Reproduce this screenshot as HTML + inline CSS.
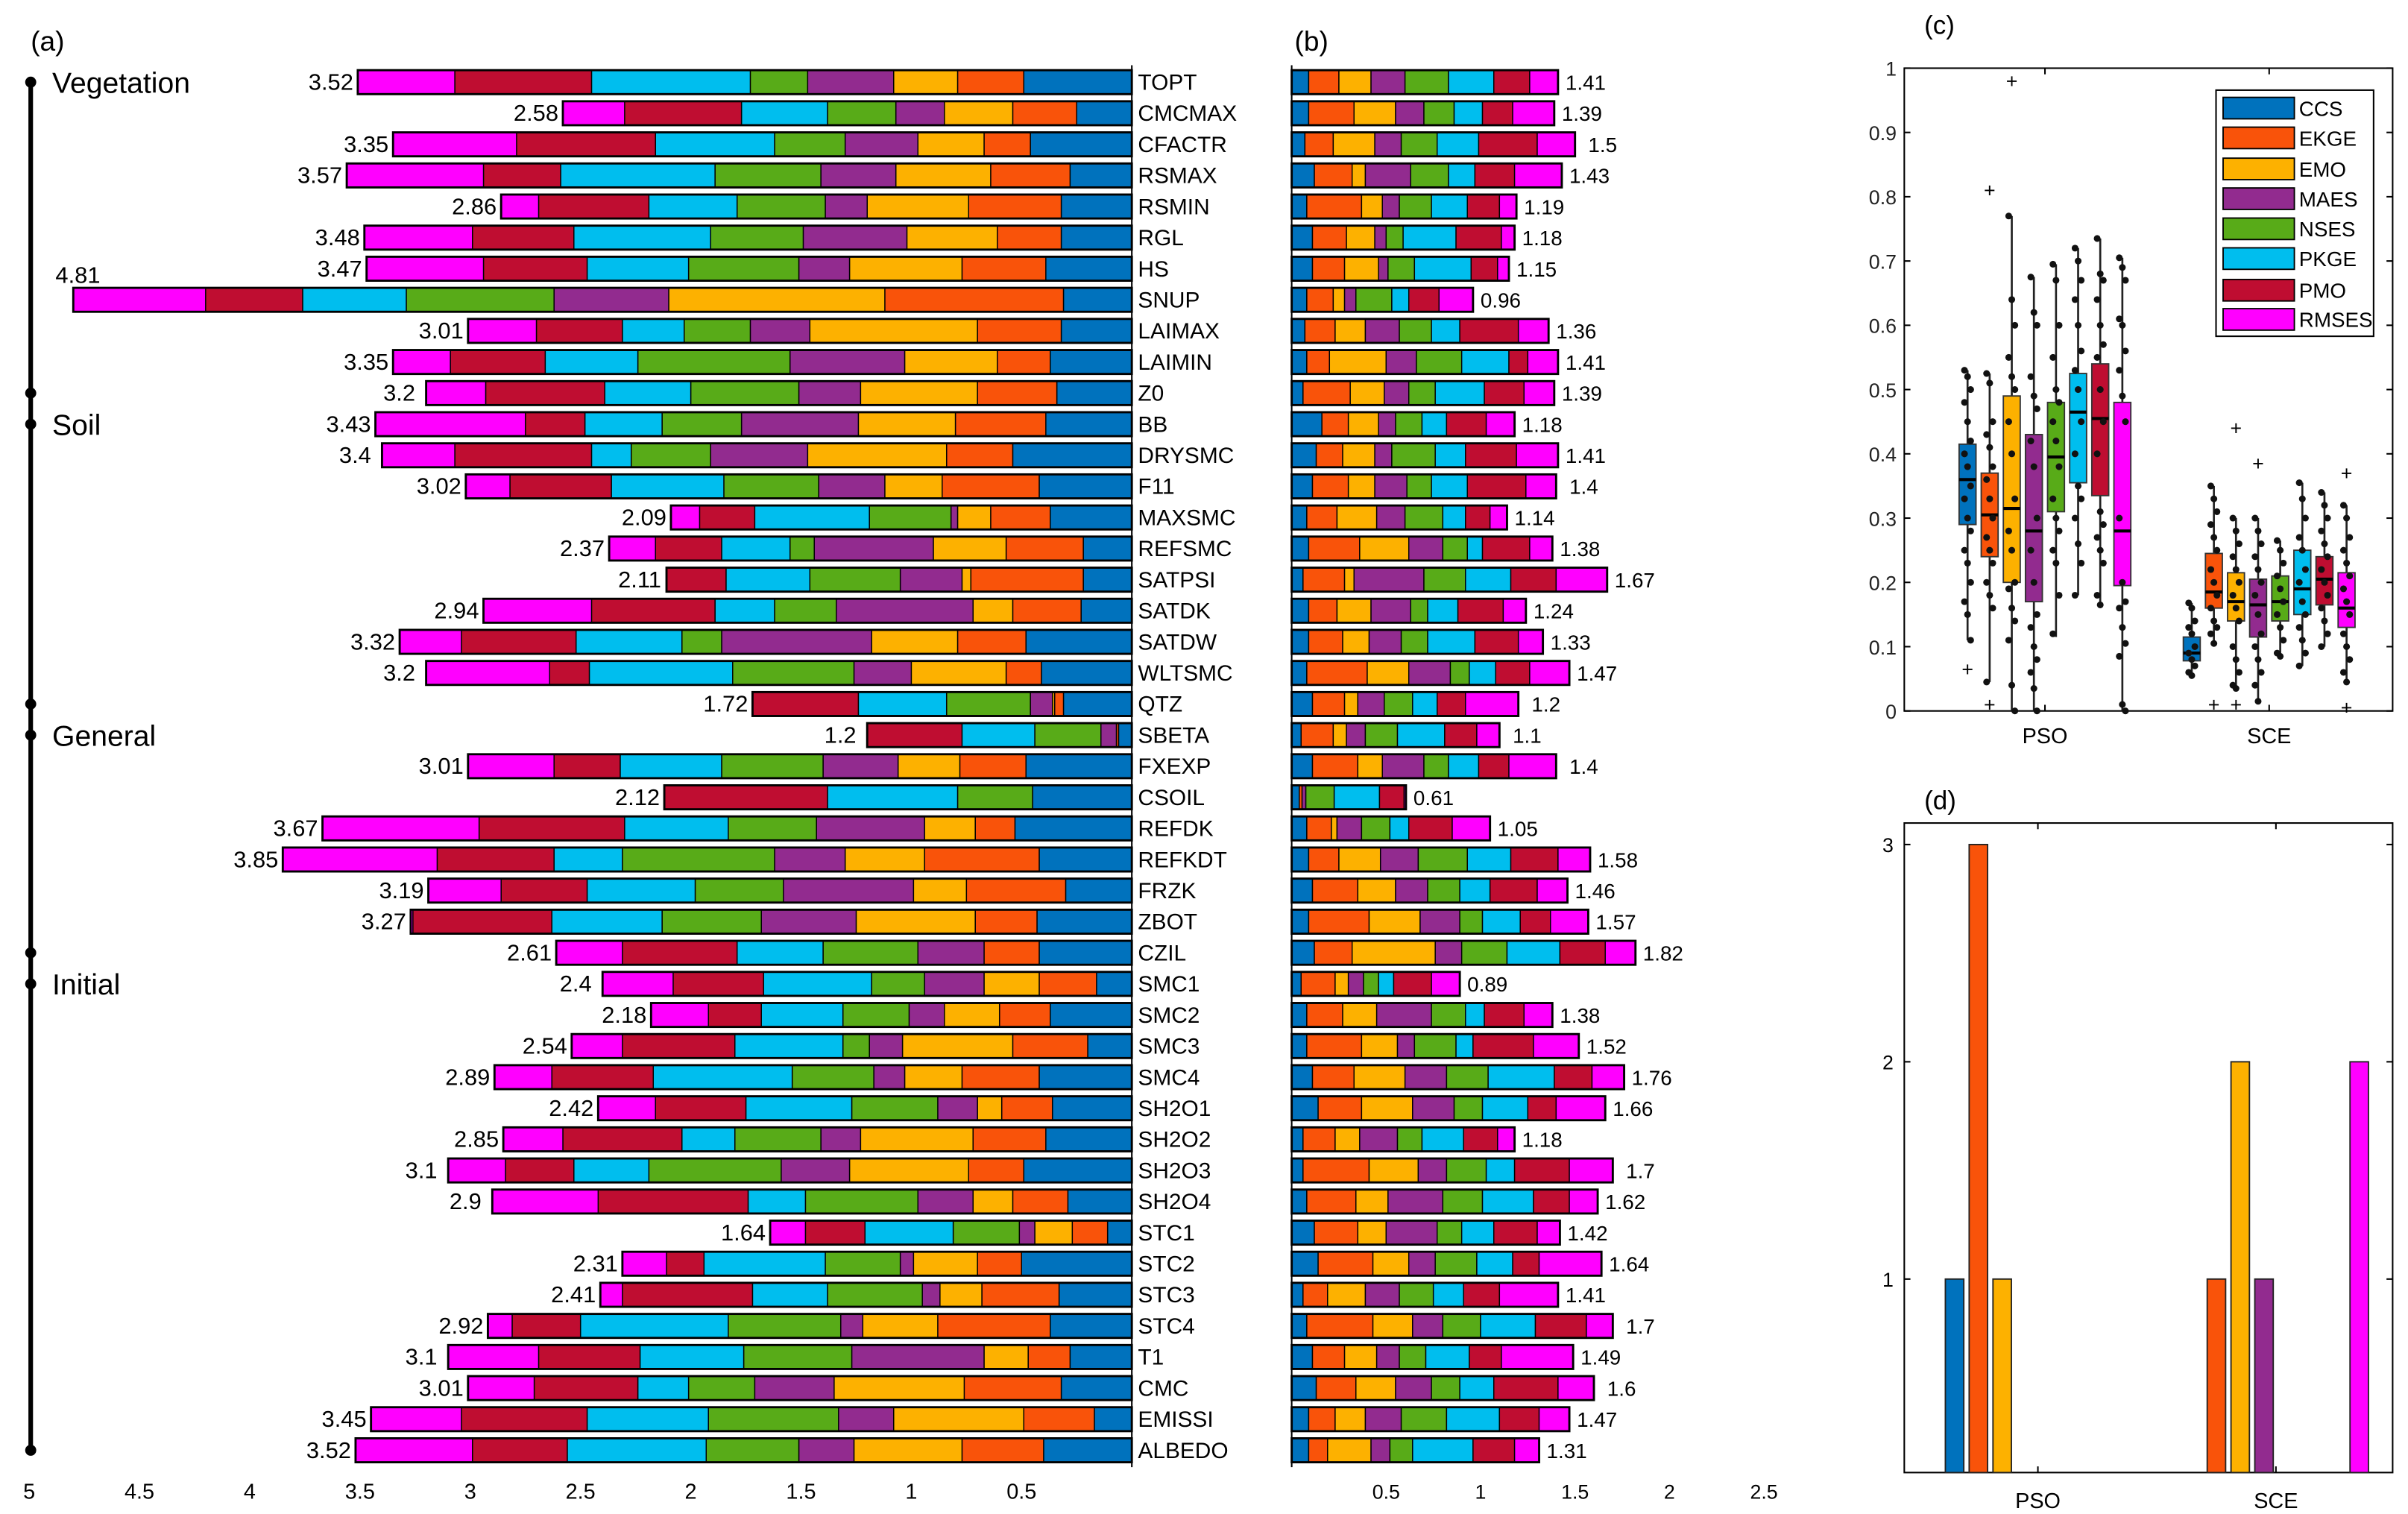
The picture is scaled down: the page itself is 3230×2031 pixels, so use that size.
<!DOCTYPE html>
<html><head><meta charset="utf-8"><title>Parameter sensitivity chart</title>
<style>html,body{margin:0;padding:0;background:#fff}svg{display:block}text{font-family:"Liberation Sans",sans-serif}</style>
</head><body>
<svg id="chart" xmlns="http://www.w3.org/2000/svg" width="3230" height="2031" viewBox="0 0 1568 986" preserveAspectRatio="none"></svg>
<script>
const params=["TOPT","CMCMAX","CFACTR","RSMAX","RSMIN","RGL","HS","SNUP","LAIMAX","LAIMIN","Z0","BB","DRYSMC","F11","MAXSMC","REFSMC","SATPSI","SATDK","SATDW","WLTSMC","QTZ","SBETA","FXEXP","CSOIL","REFDK","REFKDT","FRZK","ZBOT","CZIL","SMC1","SMC2","SMC3","SMC4","SH2O1","SH2O2","SH2O3","SH2O4","STC1","STC2","STC3","STC4","T1","CMC","EMISSI","ALBEDO"];
const methods=["CCS","EKGE","EMO","MAES","NSES","PKGE","PMO","RMSES"];
const valsA=[
[0.49,0.30,0.29,0.39,0.26,0.72,0.62,0.44],[0.25,0.29,0.31,0.22,0.31,0.39,0.53,0.28],[0.46,0.21,0.30,0.33,0.32,0.54,0.63,0.56],[0.28,0.36,0.43,0.34,0.48,0.70,0.35,0.62],[0.32,0.42,0.46,0.19,0.40,0.40,0.50,0.17],
[0.32,0.29,0.41,0.47,0.42,0.62,0.46,0.49],[0.39,0.38,0.51,0.23,0.50,0.46,0.47,0.53],[0.31,0.81,0.98,0.52,0.67,0.47,0.44,0.60],[0.32,0.38,0.76,0.27,0.30,0.28,0.39,0.31],[0.37,0.24,0.42,0.52,0.69,0.42,0.43,0.26],
[0.34,0.36,0.53,0.28,0.49,0.39,0.54,0.27],[0.39,0.41,0.44,0.53,0.36,0.35,0.27,0.68],[0.54,0.30,0.63,0.44,0.36,0.18,0.62,0.33],[0.42,0.44,0.26,0.30,0.43,0.51,0.46,0.20],[0.37,0.27,0.15,0.03,0.37,0.52,0.25,0.13],
[0.22,0.35,0.33,0.54,0.11,0.31,0.30,0.21],[0.22,0.51,0.04,0.28,0.41,0.38,0.27,0],[0.23,0.31,0.18,0.62,0.28,0.27,0.56,0.49],[0.48,0.31,0.39,0.68,0.18,0.48,0.52,0.28],[0.41,0.16,0.43,0.26,0.55,0.65,0.18,0.56],
[0.31,0.04,0.01,0.10,0.38,0.40,0.48,0],[0.06,0.01,0,0.07,0.30,0.33,0.43,0],[0.48,0.30,0.28,0.34,0.46,0.46,0.30,0.39],[0.45,0,0,0,0.34,0.59,0.74,0],[0.53,0.18,0.23,0.49,0.40,0.47,0.66,0.71],
[0.42,0.52,0.36,0.32,0.69,0.31,0.53,0.70],[0.30,0.45,0.24,0.59,0.40,0.49,0.39,0.33],[0.43,0.28,0.54,0.43,0.45,0.50,0.63,0.01],[0.42,0.25,0,0.30,0.43,0.39,0.52,0.30],[0.16,0.26,0.25,0.27,0.24,0.49,0.41,0.32],
[0.37,0.23,0.25,0.16,0.30,0.37,0.24,0.26],[0.20,0.34,0.50,0.15,0.12,0.49,0.51,0.23],[0.42,0.35,0.26,0.14,0.37,0.63,0.46,0.26],[0.36,0.23,0.11,0.18,0.39,0.48,0.41,0.26],[0.39,0.33,0.51,0.18,0.39,0.24,0.54,0.27],
[0.49,0.25,0.54,0.31,0.60,0.34,0.31,0.26],[0.29,0.25,0.18,0.25,0.51,0.26,0.68,0.48],[0.11,0.16,0.17,0.07,0.30,0.40,0.27,0.16],[0.50,0.20,0.29,0.06,0.34,0.55,0.17,0.20],[0.33,0.35,0.19,0.08,0.43,0.34,0.59,0.10],
[0.37,0.51,0.34,0.10,0.51,0.67,0.31,0.11],[0.28,0.19,0.20,0.60,0.49,0.47,0.46,0.41],[0.32,0.44,0.59,0.36,0.30,0.23,0.47,0.30],[0.17,0.32,0.59,0.25,0.59,0.55,0.57,0.41],[0.40,0.37,0.49,0.25,0.42,0.63,0.43,0.53]];
const labelsA=["3.52","2.58","3.35","3.57","2.86","3.48","3.47","4.81","3.01","3.35","3.2","3.43","3.4","3.02","2.09","2.37","2.11","2.94","3.32","3.2","1.72","1.2","3.01","2.12","3.67","3.85","3.19","3.27","2.61","2.4","2.18","2.54","2.89","2.42","2.85","3.1","2.9","1.64","2.31","2.41","2.92","3.1","3.01","3.45","3.52"];
const valsB=[
[0.09,0.16,0.17,0.18,0.23,0.24,0.19,0.15],[0.09,0.24,0.22,0.15,0.16,0.15,0.16,0.22],[0.07,0.15,0.22,0.14,0.19,0.22,0.31,0.20],[0.12,0.20,0.07,0.24,0.20,0.14,0.21,0.25],[0.08,0.29,0.11,0.09,0.17,0.19,0.17,0.09],
[0.11,0.18,0.15,0.06,0.09,0.28,0.24,0.07],[0.11,0.17,0.18,0.05,0.14,0.30,0.14,0.06],[0.08,0.14,0.06,0.06,0.19,0.09,0.16,0.18],[0.07,0.16,0.16,0.18,0.17,0.15,0.31,0.16],[0.08,0.12,0.30,0.16,0.24,0.25,0.10,0.16],
[0.06,0.25,0.18,0.13,0.14,0.26,0.21,0.16],[0.16,0.14,0.16,0.09,0.14,0.13,0.21,0.15],[0.13,0.14,0.17,0.09,0.23,0.16,0.27,0.22],[0.11,0.19,0.14,0.17,0.13,0.19,0.31,0.16],[0.08,0.16,0.21,0.15,0.20,0.12,0.13,0.09],
[0.09,0.27,0.26,0.18,0.13,0.08,0.25,0.12],[0.06,0.22,0.05,0.37,0.22,0.24,0.24,0.27],[0.09,0.15,0.18,0.21,0.09,0.16,0.24,0.12],[0.09,0.18,0.14,0.17,0.14,0.25,0.23,0.13],[0.08,0.32,0.22,0.22,0.10,0.14,0.18,0.21],
[0.11,0.17,0.07,0.14,0.15,0.13,0.15,0.28],[0.05,0.17,0.07,0.10,0.17,0.25,0.17,0.12],[0.11,0.24,0.13,0.22,0.13,0.16,0.16,0.25],[0.04,0.015,0,0.02,0.15,0.24,0.13,0.01],[0.08,0.13,0.03,0.13,0.15,0.10,0.23,0.20],
[0.09,0.16,0.22,0.20,0.26,0.23,0.25,0.17],[0.11,0.24,0.20,0.17,0.17,0.16,0.25,0.16],[0.09,0.32,0.27,0.21,0.12,0.20,0.16,0.20],[0.12,0.20,0.44,0.14,0.24,0.28,0.24,0.16],[0.05,0.18,0.07,0.08,0.08,0.08,0.20,0.15],
[0.08,0.19,0.18,0.29,0.18,0.10,0.21,0.15],[0.08,0.29,0.19,0.09,0.22,0.09,0.32,0.24],[0.11,0.22,0.27,0.22,0.22,0.35,0.20,0.17],[0.14,0.23,0.27,0.22,0.15,0.24,0.15,0.26],[0.06,0.17,0.13,0.20,0.13,0.22,0.18,0.09],
[0.06,0.35,0.26,0.15,0.21,0.15,0.29,0.23],[0.08,0.26,0.17,0.29,0.21,0.27,0.19,0.15],[0.12,0.23,0.15,0.27,0.13,0.17,0.23,0.12],[0.14,0.29,0.19,0.14,0.22,0.19,0.14,0.33],[0.06,0.13,0.20,0.18,0.18,0.16,0.19,0.31],
[0.08,0.35,0.21,0.16,0.20,0.29,0.27,0.14],[0.11,0.17,0.17,0.12,0.14,0.23,0.17,0.38],[0.13,0.21,0.21,0.19,0.15,0.18,0.34,0.19],[0.09,0.14,0.16,0.19,0.24,0.28,0.21,0.16],[0.09,0.10,0.23,0.10,0.12,0.32,0.22,0.13]];
const labelsB=["1.41","1.39","1.5","1.43","1.19","1.18","1.15","0.96","1.36","1.41","1.39","1.18","1.41","1.4","1.14","1.38","1.67","1.24","1.33","1.47","1.2","1.1","1.4","0.61","1.05","1.58","1.46","1.57","1.82","0.89","1.38","1.52","1.76","1.66","1.18","1.7","1.62","1.42","1.64","1.41","1.7","1.49","1.6","1.47","1.31"];
const groupNames=["Vegetation","Soil","General","Initial"];
const groupStart=[0,11,21,29];
const groupEnd=[10,20,28,44];
const ticksA=[5,4.5,4,3.5,3,2.5,2,1.5,1,0.5];
const ticksB=[0.5,1,1.5,2,2.5];
// panel c box statistics [q1, median, q3, whiskerLow, whiskerHigh]
const boxPSO=[[0.29,0.36,0.415,0.11,0.53],[0.24,0.305,0.37,0.045,0.525],[0.20,0.315,0.49,0,0.77],[0.17,0.28,0.43,0,0.675],[0.31,0.395,0.48,0.115,0.695],[0.355,0.465,0.525,0.18,0.72],[0.335,0.455,0.54,0.165,0.735],[0.195,0.28,0.48,0,0.705]];
const boxSCE=[[0.078,0.09,0.115,0.055,0.168],[0.16,0.185,0.245,0.105,0.35],[0.14,0.17,0.215,0.035,0.30],[0.115,0.165,0.205,0.015,0.30],[0.14,0.17,0.21,0.085,0.265],[0.15,0.19,0.25,0.07,0.355],[0.165,0.205,0.24,0.10,0.34],[0.13,0.16,0.215,0.045,0.32]];
const outPSO=[[0.065],[0.81,0.01],[0.98],[],[],[],[],[]];
const outSCE=[[],[0.01],[0.44,0.01],[0.385],[],[],[],[0.37,0.005]];
const ptsPSO=[[0.53,0.52,0.5,0.48,0.45,0.42,0.4,0.38,0.35,0.33,0.3,0.28,0.25,0.23,0.2,0.17,0.15,0.11],[0.525,0.51,0.45,0.43,0.41,0.38,0.36,0.33,0.3,0.27,0.25,0.23,0.2,0.18,0.16,0.045],[0.77,0.64,0.6,0.55,0.52,0.5,0.45,0.4,0.33,0.28,0.25,0.2,0.19,0.16,0.14,0.11,0.04,0],[0.675,0.62,0.6,0.52,0.49,0.47,0.42,0.38,0.3,0.25,0.2,0.15,0.13,0.1,0.08,0.06,0.035,0],[0.695,0.67,0.6,0.55,0.5,0.48,0.45,0.42,0.38,0.33,0.3,0.28,0.25,0.23,0.18,0.12],[0.72,0.7,0.67,0.64,0.6,0.56,0.53,0.5,0.45,0.4,0.35,0.33,0.3,0.26,0.23,0.18],[0.735,0.68,0.67,0.64,0.6,0.57,0.55,0.5,0.45,0.4,0.31,0.29,0.27,0.25,0.23,0.18,0.165],[0.705,0.69,0.67,0.61,0.6,0.56,0.53,0.49,0.45,0.3,0.2,0.17,0.16,0.13,0.105,0.085,0.01,0]];
const ptsSCE=[[0.168,0.16,0.14,0.13,0.12,0.1,0.09,0.08,0.07,0.06,0.055],[0.35,0.33,0.31,0.29,0.27,0.25,0.22,0.2,0.18,0.16,0.14,0.13,0.12,0.105],[0.3,0.28,0.26,0.24,0.22,0.2,0.18,0.16,0.14,0.1,0.08,0.06,0.04,0.035],[0.3,0.28,0.26,0.24,0.22,0.2,0.18,0.15,0.12,0.1,0.08,0.06,0.04,0.015],[0.265,0.25,0.23,0.21,0.19,0.17,0.15,0.13,0.11,0.09,0.085],[0.355,0.33,0.3,0.27,0.25,0.22,0.2,0.17,0.15,0.13,0.11,0.09,0.07],[0.34,0.32,0.3,0.28,0.26,0.24,0.22,0.2,0.18,0.16,0.14,0.12,0.1],[0.32,0.3,0.27,0.25,0.23,0.21,0.19,0.17,0.15,0.12,0.1,0.08,0.06,0.045]];
const ticksC=[0,0.1,0.2,0.3,0.4,0.5,0.6,0.7,0.8,0.9,1];
const countPSO=[1,3,1,0,0,0,0,0];
const countSCE=[0,1,2,1,0,0,0,2];
const ticksD=[1,2,3];

const COLORS=["#0072BD","#F9530A","#FDB100","#922B8F","#58AB18","#00BEEE","#BF0D31","#FF00FF"];
const NS="http://www.w3.org/2000/svg";
const svg=document.getElementById("chart");
function el(tag,a,p){const e=document.createElementNS(NS,tag);for(const k in a)e.setAttribute(k,a[k]);(p||svg).appendChild(e);return e;}
function txt(s,a,p){const e=el("text",a,p);e.textContent=s;return e;}

// ---------- panel a ----------
const AX0=737,AU=143.6,ROW0=53.5,ROWH=20.25,BH=15.6;
const xA=v=>AX0-v*AU, yRow=i=>ROW0+i*ROWH;
const gA=el("g",{});


let t=txt("(a)",{x:20,y:33,"font-size":18},gA);


params.forEach((p,i)=>{
  const y=yRow(i);let cum=0;
  valsA[i].forEach((w,m)=>{
    if(w<=0)return;
    const r=el("rect",{x:xA(cum+w),y:y-BH/2,width:w*AU,height:BH,fill:COLORS[m],stroke:"#000","stroke-width":0.7},gA);
    
    
    cum+=w;
  });
  const o=el("rect",{x:xA(cum),y:y-BH/2,width:cum*AU,height:BH,fill:"none",stroke:"#000","stroke-width":1.4},gA);
  
  
  let lx=xA(cum)-17.5,ly=y+5;
  if(cum>4.5){lx=xA(cum)+3;ly=y-11;}
  const l=txt(labelsA[i],{x:lx,y:ly,"font-size":15,"text-anchor":"middle"},gA);
  
  
  const n=txt(p,{x:741,y:y+5,"font-size":14.5},gA);
  
  
});
let ax=el("line",{x1:AX0,y1:yRow(0)-11,x2:AX0,y2:yRow(44)+11,stroke:"#000","stroke-width":1},gA);


ticksA.forEach(v=>{
  const tk=txt(String(v),{x:xA(v),y:976,"font-size":14,"text-anchor":"middle"},gA);
  
  
});
const br=el("line",{x1:20,y1:yRow(0),x2:20,y2:yRow(44),stroke:"#000","stroke-width":3},gA);


groupNames.forEach((g,k)=>{
  [groupStart[k],groupEnd[k]].forEach(r=>{
    const d=el("circle",{cx:20,cy:yRow(r),r:3.6,fill:"#000"},gA);
    
    
  });
  const gt=txt(g,{x:34,y:yRow(groupStart[k])+7,"font-size":19},gA);
  
  
});

// ---------- panel b ----------
const BX0=841.1,BU=123;
const xB=v=>BX0+v*BU;
const gB=el("g",{});


t=txt("(b)",{x:843,y:33,"font-size":18},gB);


params.forEach((p,i)=>{
  const y=yRow(i);let cum=0;
  valsB[i].forEach((w,m)=>{
    if(w<=0)return;
    const r=el("rect",{x:xB(cum),y:y-BH/2,width:w*BU,height:BH,fill:COLORS[m],stroke:"#000","stroke-width":0.7},gB);
    
    
    cum+=w;
  });
  const o=el("rect",{x:xB(0),y:y-BH/2,width:cum*BU,height:BH,fill:"none",stroke:"#000","stroke-width":1.4},gB);
  
  
  const l=txt(labelsB[i],{x:xB(cum)+18,y:y+5,"font-size":13.5,"text-anchor":"middle","font-family":"DejaVu Sans, sans-serif"},gB);
  
  
});
ax=el("line",{x1:BX0,y1:yRow(0)-11,x2:BX0,y2:yRow(44)+11,stroke:"#000","stroke-width":1},gB);


ticksB.forEach(v=>{
  const tk=txt(String(v),{x:xB(v),y:976,"font-size":13,"text-anchor":"middle","font-family":"DejaVu Sans, sans-serif"},gB);
  
  
});

// ---------- panel c ----------
const CL=1240,CR=1558,CT=44.4,CB=463;
const yC=v=>CB-v*(CB-CT);
const centers=[1331.6,1477.6],SP=14.4,BW=11;
const gC=el("g",{});


t=txt("(c)",{x:1253,y:22,"font-size":17,"font-family":"DejaVu Sans, sans-serif"},gC);


let fr=el("rect",{x:CL,y:CT,width:CR-CL,height:CB-CT,fill:"none",stroke:"#000","stroke-width":1},gC);


ticksC.forEach(v=>{
  const tk=txt(String(v),{x:CL-5,y:yC(v)+5,"font-size":13,"text-anchor":"end","font-family":"DejaVu Sans, sans-serif",fill:"#222"},gC);
  
  
  el("line",{x1:CL,y1:yC(v),x2:CL+4,y2:yC(v),stroke:"#000"},gC);
  el("line",{x1:CR-4,y1:yC(v),x2:CR,y2:yC(v),stroke:"#000"},gC);
});
["PSO","SCE"].forEach((g,k)=>{
  const tk=txt(g,{x:centers[k],y:484,"font-size":14,"text-anchor":"middle","font-family":"DejaVu Sans, sans-serif"},gC);
  
  
  el("line",{x1:centers[k],y1:CT,x2:centers[k],y2:CT+4,stroke:"#000"},gC);
  el("line",{x1:centers[k],y1:CB,x2:centers[k],y2:CB-4,stroke:"#000"},gC);
  const stats=k?boxSCE:boxPSO,outs=k?outSCE:outPSO,pts=k?ptsSCE:ptsPSO;
  stats.forEach((s,m)=>{
    const cx=centers[k]+(m-3.5)*SP;
    const wl=el("line",{x1:cx,y1:yC(s[3]),x2:cx,y2:yC(s[4]),stroke:"#222","stroke-width":1.3},gC);
    
    
    const b=el("rect",{x:cx-BW/2,y:yC(s[2]),width:BW,height:yC(s[0])-yC(s[2]),fill:COLORS[m],stroke:"#333","stroke-width":0.9},gC);
    
    
    const md=el("line",{x1:cx-BW/2,y1:yC(s[1]),x2:cx+BW/2,y2:yC(s[1]),stroke:"#000","stroke-width":2},gC);
    
    
    pts[m].forEach((v,j)=>{
      const d=el("circle",{cx:cx+((j%3)-1)*2,cy:yC(v),r:2.2,fill:"#111"},gC);
      
      
    });
    outs[m].forEach(v=>{
      const o=txt("+",{x:cx,y:yC(v)+4.5,"font-size":13,"text-anchor":"middle"},gC);
      
      
    });
  });
});
const lg=el("g",{},gC);


el("rect",{x:1443,y:58.7,width:102.6,height:160.3,fill:"#fff",stroke:"#000","stroke-width":1},lg);
const legY=[70.4,89.8,110,129.4,149,168.4,189,208];
methods.forEach((m,k)=>{
  const sw=el("rect",{x:1447.6,y:legY[k]-7,width:46.4,height:14,fill:COLORS[k],stroke:"#000","stroke-width":0.9},lg);
  
  
  const lt=txt(m,{x:1497,y:legY[k]+5,"font-size":13.5,"font-family":"DejaVu Sans, sans-serif"},lg);
  
  
});

// ---------- panel d ----------
const DT=536,DB=959;
const yD=v=>974.5-v*141.5;
const dCenters=[1327,1482],DSP=15.5,DBW=12;
const gD=el("g",{});


t=txt("(d)",{x:1253,y:527,"font-size":17,"font-family":"DejaVu Sans, sans-serif"},gD);


fr=el("rect",{x:CL,y:DT,width:CR-CL,height:DB-DT,fill:"none",stroke:"#000","stroke-width":1},gD);


ticksD.forEach(v=>{
  const tk=txt(String(v),{x:CL-7,y:yD(v)+5,"font-size":13,"text-anchor":"end","font-family":"DejaVu Sans, sans-serif"},gD);
  
  
  el("line",{x1:CL,y1:yD(v),x2:CL+4,y2:yD(v),stroke:"#000"},gD);
  el("line",{x1:CR-4,y1:yD(v),x2:CR,y2:yD(v),stroke:"#000"},gD);
});
["PSO","SCE"].forEach((g,k)=>{
  const tk=txt(g,{x:dCenters[k],y:982,"font-size":14,"text-anchor":"middle","font-family":"DejaVu Sans, sans-serif"},gD);
  
  
  el("line",{x1:dCenters[k],y1:DT,x2:dCenters[k],y2:DT+4,stroke:"#000"},gD);
  el("line",{x1:dCenters[k],y1:DB,x2:dCenters[k],y2:DB-4,stroke:"#000"},gD);
  (k?countSCE:countPSO).forEach((v,m)=>{
    if(v<=0)return;
    const cx=dCenters[k]+(m-3.5)*DSP;
    const top=Math.max(yD(v),DT);
    const b=el("rect",{x:cx-DBW/2,y:top,width:DBW,height:DB-top,fill:COLORS[m],stroke:"#222","stroke-width":0.9},gD);
    
    
  });
});
</script>
</body></html>
